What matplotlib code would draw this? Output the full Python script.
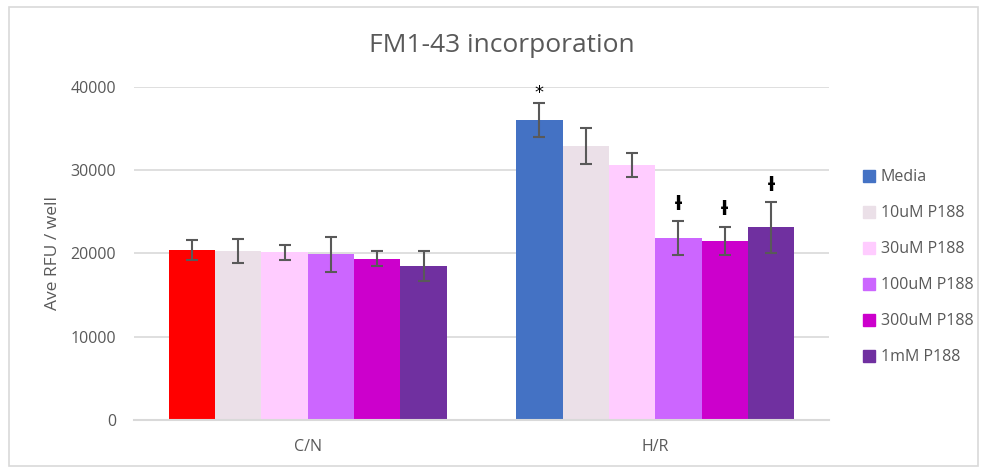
import numpy as np
import matplotlib.pyplot as plt
from matplotlib.patches import Patch, Rectangle

categories = ["C/N", "H/R"]
series = ["Media", "10uM P188", "30uM P188", "100uM P188", "300uM P188", "1mM P188"]
cn_means = [20380, 20300, 20140, 19900, 19380, 18540]
cn_err = [1220, 1420, 940, 2100, 940, 1800]
hr_means = [36040, 32950, 30630, 21860, 21500, 23140]
hr_err = [2050, 2160, 1400, 2040, 1740, 3060]
hr_marks = ["*", "", "", "ƚ", "ƚ", "ƚ"]

colors = ["#4472C4", "#EBE0E8", "#FFCCFF", "#CC66FF", "#CC00CC", "#7030A0"]
cn_media_color = "#FF0000"

plt.rcParams["font.family"] = ["Open Sans", "DejaVu Sans"]
grey = "#595959"

fig = plt.figure(figsize=(9.86, 4.7), dpi=100)
ax = fig.add_axes([0.1359, 0.1064, 0.7049, 0.7085])

x = np.arange(len(categories))
n = len(series)
width = 0.8 / n

for i, name in enumerate(series):
    xs = x - 0.4 + width * (i + 0.5)
    vals = [cn_means[i], hr_means[i]]
    errs = [cn_err[i], hr_err[i]]
    cols = [cn_media_color if i == 0 else colors[i], colors[i]]
    ax.bar(xs, vals, width, color=cols, zorder=2)
    ax.errorbar(xs, vals, yerr=errs, fmt="none", ecolor=grey, elinewidth=1.5,
                capsize=4.5, capthick=1.5, zorder=3)
    if hr_marks[i]:
        top = hr_means[i] + hr_err[i]
        if hr_marks[i] == "*":
            ax.text(xs[1], top + 1200, "*", ha="center", va="center",
                    fontsize=13, color="black", family="DejaVu Sans", clip_on=False)
        else:
            ax.text(xs[1], top + 2000, hr_marks[i], ha="center", va="center",
                    fontsize=14, fontweight="bold", color="black",
                    family="DejaVu Sans", clip_on=False)

ax.set_xlim(-0.5, 1.5)
ax.set_ylim(0, 40000)
ax.set_yticks([0, 10000, 20000, 30000, 40000])
ax.set_xticks(x)
ax.set_xticklabels(categories)
ax.tick_params(axis="both", length=0, labelsize=11.5, labelcolor=grey)
ax.tick_params(axis="y", pad=13)
ax.tick_params(axis="x", pad=14)
ax.grid(axis="y", color="#D9D9D9", linewidth=1.2, zorder=0)
for side in ["top", "right", "left"]:
    ax.spines[side].set_visible(False)
ax.spines["bottom"].set_color("#D9D9D9")
ax.spines["bottom"].set_linewidth(1.5)

ax.set_ylabel("Ave RFU / well", fontsize=12.5, color=grey, labelpad=7)
fig.text(0.509, 0.903, "FM1-43 incorporation", ha="center", va="center",
         fontsize=19, color=grey)

handles = [Patch(color=c) for c in colors]
fig.legend(handles, series, loc="upper left", bbox_to_anchor=(0.861, 0.67),
           frameon=False, fontsize=11.5, labelcolor=grey, handlelength=0.75,
           handleheight=0.75, handletextpad=0.35, labelspacing=1.25)

fig.patches.append(Rectangle((0.009, 0.008), 0.983, 0.977, transform=fig.transFigure,
                             fill=False, edgecolor="#D9D9D9", linewidth=1.2))

fig.savefig("out.png", dpi=100)
